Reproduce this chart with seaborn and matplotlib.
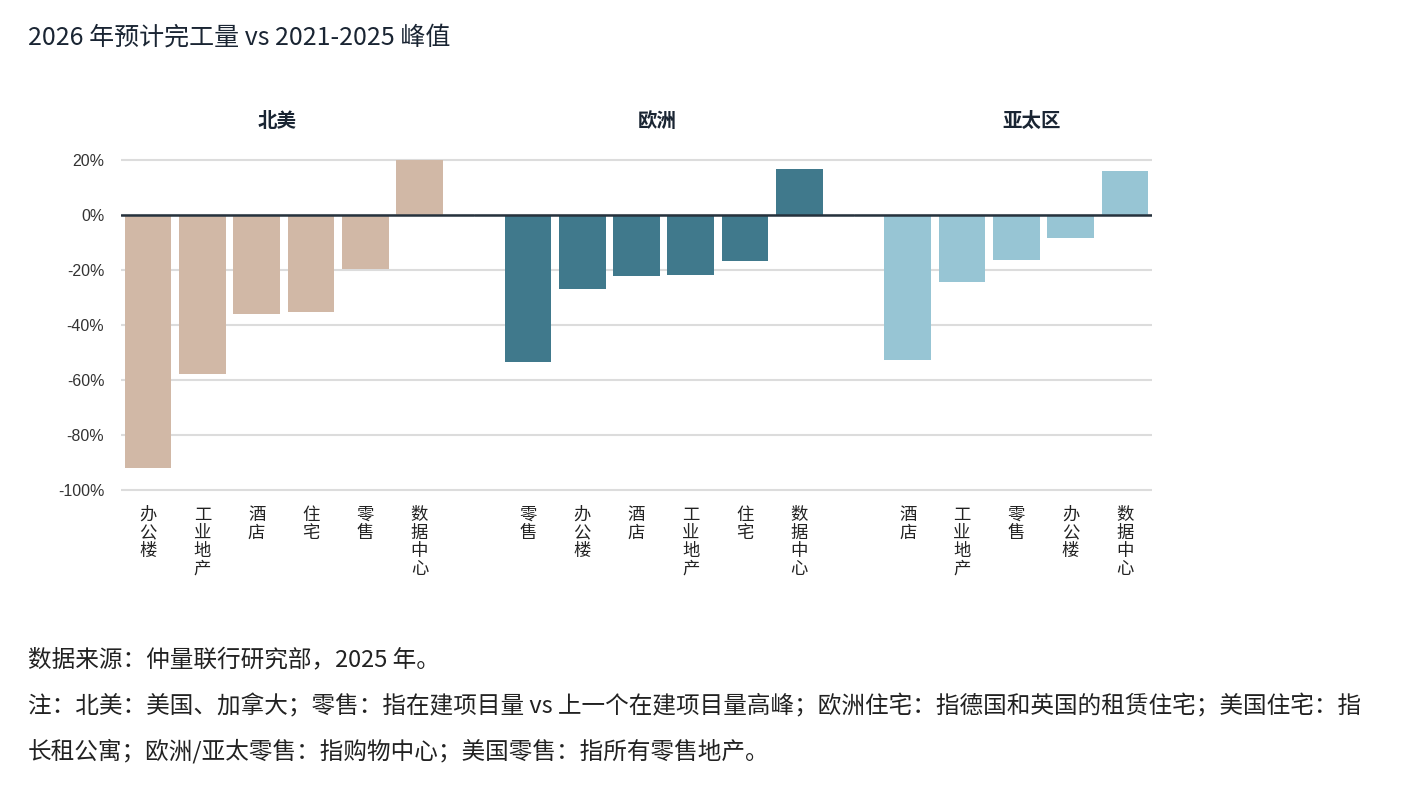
import pandas as pd
import matplotlib
matplotlib.use("Agg")
import matplotlib.pyplot as plt
import seaborn as sns

# data (percent change, 2026 completions vs 2021-2025 peak)
regions = ["北美", "欧洲", "亚太区"]
na_sectors = ["办公楼", "工业地产", "酒店", "住宅", "零售", "数据中心"]
na_values = [-92, -58, -36, -35.3, -19.6, 20]
eu_sectors = ["零售", "办公楼", "酒店", "工业地产", "住宅", "数据中心"]
eu_values = [-53.5, -27, -22.2, -21.9, -16.8, 16.9]
ap_sectors = ["酒店", "工业地产", "零售", "办公楼", "数据中心"]
ap_values = [-52.7, -24.4, -16.4, -8.5, 16.2]
yticks = [20, 0, -20, -40, -60, -80, -100]
ytick_labels = ["20%", "0%", "-20%", "-40%", "-60%", "-80%", "-100%"]

colors = ["#d1b8a6", "#40798c", "#97c5d4"]
title = "2026 年预计完工量 vs 2021-2025 峰值"
source = "数据来源：仲量联行研究部，2025 年。"
notes = ["注：北美：美国、加拿大；零售：指在建项目量 vs 上一个在建项目量高峰；欧洲住宅：指德国和英国的租赁住宅；美国住宅：指",
         "长租公寓；欧洲/亚太零售：指购物中心；美国零售：指所有零售地产。"]

sns.set_style("white")
plt.rcParams["font.family"] = ["Noto Sans CJK SC", "DejaVu Sans"]

W, H = 1416, 786
fig = plt.figure(figsize=(W / 100, H / 100), dpi=100)
gs = fig.add_gridspec(1, 3, width_ratios=[6.5, 7, 5.5],
                      left=121 / W, right=1152 / W,
                      bottom=1 - 492 / H, top=1 - 158 / H, wspace=0)

panels = [(na_sectors, na_values), (eu_sectors, eu_values), (ap_sectors, ap_values)]
xlims = [(-0.5, 6.0), (-1.0, 6.0), (-1.0, 4.5)]
title_x = [2.38, 2.38, 2.29]

axes = []
for i, (cats, vals) in enumerate(panels):
    ax = fig.add_subplot(gs[0, i], sharey=axes[0] if axes else None)
    axes.append(ax)
    df = pd.DataFrame({"sector": cats, "value": vals})
    sns.barplot(data=df, x="sector", y="value", color=colors[i], width=0.86,
                linewidth=0, saturation=1, ax=ax)
    ax.set_xlim(*xlims[i])
    ax.set_ylim(-100.75, 20.75)
    ax.set_xlabel("")
    ax.set_ylabel("")
    ax.set_axisbelow(True)
    ax.yaxis.grid(True, color="#dcdcdc", linewidth=1.5)
    ax.xaxis.grid(False)
    ax.axhline(0, color="#26323d", linewidth=1.8, zorder=3)
    for s in ax.spines.values():
        s.set_visible(False)
    ax.set_xticks(range(len(cats)))
    ax.set_xticklabels(["\n".join(c) for c in cats], fontsize=12.5,
                       linespacing=1.0, va="top", color="#222222")
    ax.tick_params(axis="x", length=0, pad=10)
    ax.tick_params(axis="y", length=0, pad=12)
    ax.text(title_x[i], 1.108, regions[i], transform=ax.get_xaxis_transform(),
            ha="center", va="center", fontsize=14, fontweight="bold", color="#1a2533")

axes[0].set_yticks(yticks)
axes[0].set_yticklabels(ytick_labels, fontsize=11.5, color="#333333",
                        fontfamily="Liberation Sans")
for ax in axes[1:]:
    ax.tick_params(axis="y", labelleft=False)

fig.text(28 / W, 1 - 38 / H, title, fontsize=18, color="#1a2533", va="center", ha="left")
fig.text(28 / W, 1 - 660 / H, source, fontsize=17, color="#222222", va="center", ha="left")
fig.text(28 / W, 1 - 706 / H, notes[0], fontsize=17, color="#222222", va="center", ha="left")
fig.text(28 / W, 1 - 751 / H, notes[1], fontsize=17, color="#222222", va="center", ha="left")

fig.savefig("out.png", dpi=100)
